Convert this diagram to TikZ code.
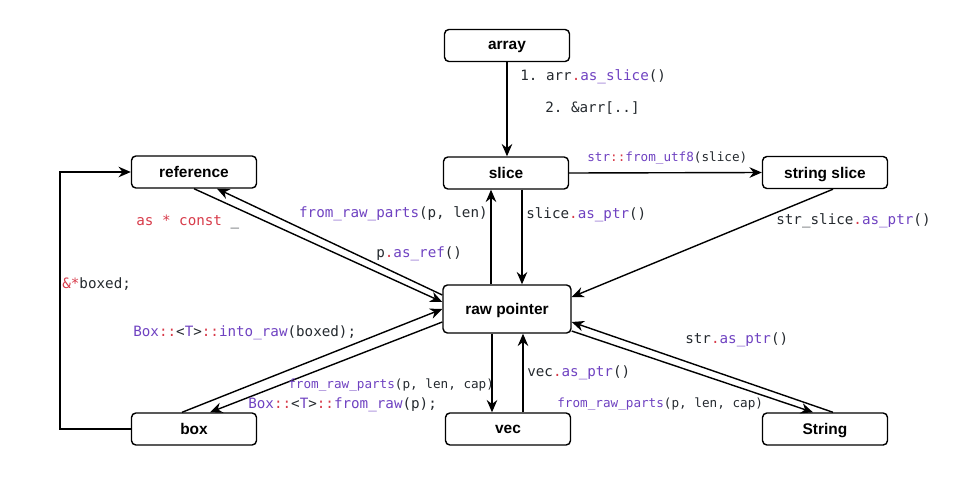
\documentclass[tikz,border=0pt]{standalone}
\usepackage{fontspec}
\setmainfont{Liberation Sans}
\setmonofont{DejaVu Sans Mono}
\usepackage{tikz}
\usetikzlibrary{arrows.meta,positioning,calc}
\definecolor{fnpurple}{HTML}{6F42C1}
\definecolor{kwred}{HTML}{D73A49}
\definecolor{codegray}{HTML}{24292E}
\newcommand{\fn}[1]{\textcolor{fnpurple}{#1}}
\newcommand{\kw}[1]{\textcolor{kwred}{#1}}

\begin{document}
\begin{tikzpicture}[x=0.02cm,y=-0.02cm,
  kind/.style={draw,rounded corners=2.5pt,line width=0.8pt,minimum width=2.5cm,
    minimum height=0.64cm,text depth=0pt,font=\fontsize{8.8}{10}\selectfont\bfseries},
  code/.style={inner sep=0pt,text=codegray,font=\fontsize{8.1}{10}\ttfamily},
  small/.style={code,font=\fontsize{7.2}{9}\ttfamily},
  conv/.style={line width=0.8pt,-{Stealth[length=7pt,width=6pt]}}]
\useasboundingbox (0,0) rectangle (966,480);
\node[kind] (array) at (507,45.5) {array};
\node[kind] (ref) at (194,172) {reference};
\node[kind] (slice) at (506,173) {slice};
\node[kind] (sslice) at (825,172.5) {string slice};
\node[kind,minimum width=2.56cm,minimum height=0.96cm] (raw) at (507,309) {raw pointer};
\node[kind] (box) at (194,429) {box};
\node[kind] (vec) at (508,429) {vec};
\node[kind] (string) at (825,429) {String};
% attachment points
\coordinate (sdown) at ($(slice.south)+(16,0)$);
\coordinate (rup) at ($(raw.north)+(-16,0)$);
\coordinate (rdown) at ($(raw.south)+(-15,0)$);
\coordinate (vup) at ($(vec.north)+(15,0)$);
% arrows
\draw[conv] (array.south) -- (array.south |- slice.north);
\draw[conv] (slice.east) -- (sslice.west);
\draw[conv] (sdown) -- (sdown |- raw.north);
\draw[conv] (rup) -- (rup |- slice.south);
\draw[conv] ($(sslice.south)+(8,0)$) -- ($(raw.east)+(0,-12)$);
\draw[conv] (ref.south) -- ($(raw.west)+(0,-7)$);
\draw[conv] ($(raw.west)+(0,-14)$) -- ($(ref.south)+(23,0)$);
\draw[conv] ($(box.north)+(-12,0)$) -- (raw.west);
\draw[conv] ($(raw.west)+(0,13)$) -- ($(box.north)+(16,0)$);
\draw[conv] (box.west) -- ++(-71,0) |- (ref.west);
\draw[conv] (rdown) -- (rdown |- vec.north);
\draw[conv] (vup) -- (vup |- raw.south);
\draw[conv] ($(string.north)+(8,0)$) -- ($(raw.east)+(0,13)$);
\draw[conv] ($(raw.east)+(0,22)$) -- ($(string.north)+(-12,0)$);
% labels
\node[code,anchor=west] (l1) at (520,77) {1. arr\kw{.}\fn{as\_slice}()};
\node[code,anchor=west] (l2) at (545,108) {2. \&arr[..]};
\node[small,anchor=west] (l3) at (587,158) {\fn{str}\kw{::}\fn{from\_utf8}(slice)};
\node[code,anchor=east] (l4) at (488,214) {\fn{from\_raw\_parts}(p, len)};
\node[code,anchor=west] (l5) at (526,215) {slice\kw{.}\fn{as\_ptr}()};
\node[code,anchor=west] (l6) at (776,221) {str\_slice\kw{.}\fn{as\_ptr}()};
\node[code,anchor=west] (l7) at (136,222) {\kw{as * const} \_};
\node[code,anchor=west] (l8) at (376,254) {p\kw{.}\fn{as\_ref}()};
\node[code,anchor=west] (l9) at (62,284) {\kw{\&*}boxed;};
\node[code,anchor=west] (l10) at (133,333) {\fn{Box}\kw{::}<\fn{T}>\kw{::}\fn{into\_raw}(boxed);};
\node[code,anchor=west] (l11) at (685,340) {str\kw{.}\fn{as\_ptr}()};
\node[code,anchor=west] (l12) at (527,373) {vec\kw{.}\fn{as\_ptr}()};
\node[small,anchor=west] (l13) at (288,385) {\fn{from\_raw\_parts}(p, len, cap)};
\node[code,anchor=west] (l14) at (248,405) {\fn{Box}\kw{::}<\fn{T}>\kw{::}\fn{from\_raw}(p);};
\node[small,anchor=west] (l15) at (557,404) {\fn{from\_raw\_parts}(p, len, cap)};
\end{tikzpicture}
\end{document}
